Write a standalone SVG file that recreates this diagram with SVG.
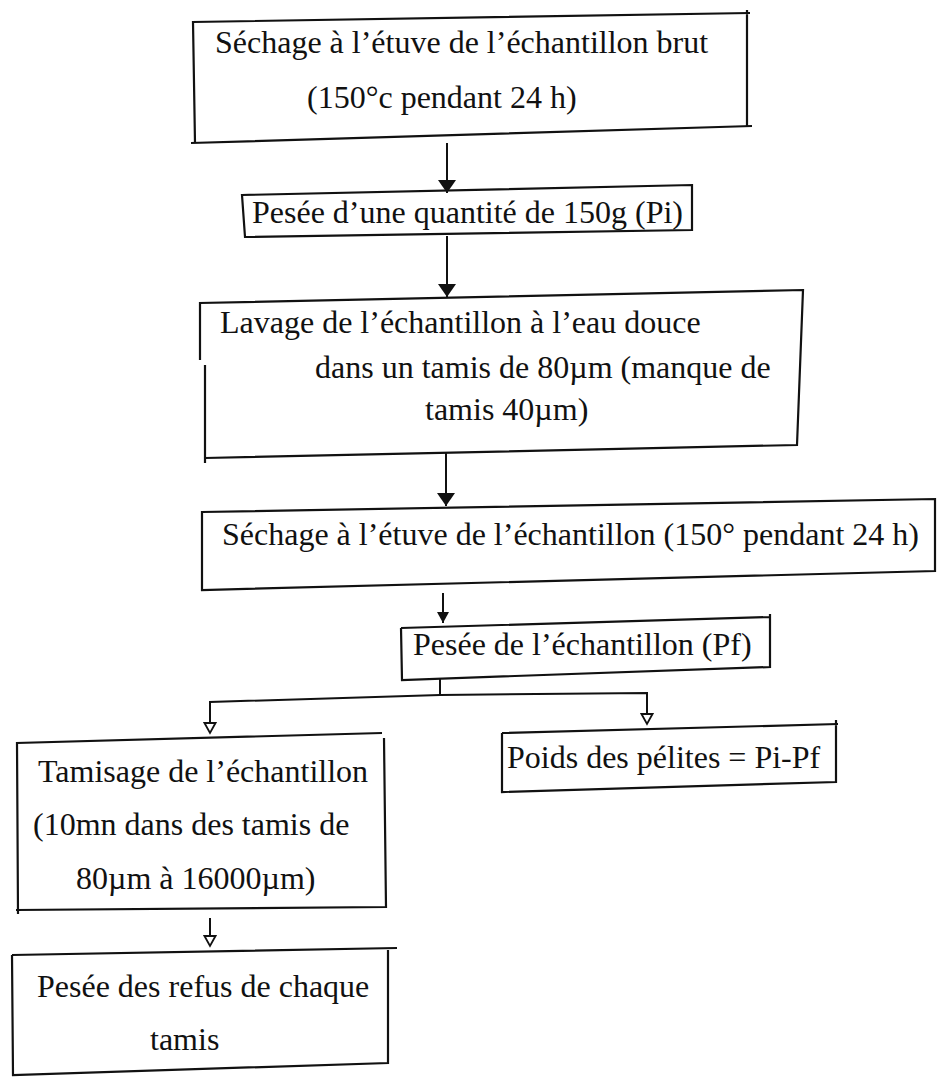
<svg xmlns="http://www.w3.org/2000/svg" width="938" height="1078" viewBox="0 0 938 1078">
<style>
.box{fill:none;stroke:#111;stroke-width:2.2;stroke-linejoin:miter}
.t{font-family:"Liberation Serif","Times New Roman",serif;font-size:32px;fill:#111}
.c{fill:none;stroke:#111;stroke-width:2}
</style>
<defs>
<marker id="af" markerUnits="userSpaceOnUse" viewBox="0 -10 14 20" markerWidth="14" markerHeight="20" refX="13" refY="0" orient="auto"><path d="M0,-9 L13,0 L0,9 Z" fill="#111"/></marker>
<marker id="as" markerUnits="userSpaceOnUse" viewBox="0 -7 12 14" markerWidth="12" markerHeight="14" refX="11" refY="0" orient="auto"><path d="M0,-6 L11,0 L0,6 Z" fill="#111"/></marker>
<marker id="ao" markerUnits="userSpaceOnUse" viewBox="-1 -7 13 14" markerWidth="13" markerHeight="14" refX="10" refY="0" orient="auto"><path d="M0,-5.5 L10,0 L0,5.5 Z" fill="#fff" stroke="#111" stroke-width="1.8"/></marker>
</defs>
<rect width="938" height="1078" fill="#fff"/>

<g id="n1">
<path class="box" d="M195,143 L193,22 L750,13 M747,10 L747,127 M752,126 L191,143"/>
<text class="t" x="215" y="53">Séchage à l’étuve de l’échantillon brut</text>
<text class="t" x="307" y="108">(150°c pendant 24 h)</text>
</g>

<g id="n2">
<polygon class="box" points="242,195 692,185 692,230 245,237"/>
<text class="t" x="252" y="223">Pesée d’une quantité de 150g (Pi)</text>
</g>

<g id="n3">
<path class="box" d="M200,360 L200,303 L803,290 L797,445 L205,458 M205,365 L205,463"/>
<text class="t" x="220" y="333">Lavage de l’échantillon à l’eau douce</text>
<text class="t" x="315" y="378">dans un tamis de 80µm (manque de</text>
<text class="t" x="425" y="420">tamis 40µm)</text>
</g>

<g id="n4">
<polygon class="box" points="202,512 935,499 935,571 202,590"/>
<text class="t" x="222" y="545">Séchage à l’étuve de l’échantillon (150° pendant 24 h)</text>
</g>

<g id="n5">
<path class="box" d="M401,628 L770,617 M770,614 L770,667 L402,680 L401,628"/>
<text class="t" x="413" y="655">Pesée de l’échantillon (Pf)</text>
</g>

<g id="n6">
<path class="box" d="M18,914 L17,743 L382,733 M384,738 L386,907 L16,910"/>
<text class="t" x="38" y="782">Tamisage de l’échantillon</text>
<text class="t" x="33" y="835">(10mn dans des tamis de</text>
<text class="t" x="76" y="889">80µm à 16000µm)</text>
</g>

<g id="n7">
<path class="box" d="M502,733 L838,724 M836,720 L836,782 L502,792 L502,733"/>
<text class="t" x="507" y="768">Poids des pélites = Pi-Pf</text>
</g>

<g id="n8">
<path class="box" d="M12,955 L397,948 M388,950 L388,1063 L13,1075 L12,955"/>
<text class="t" x="37" y="997">Pesée des refus de chaque</text>
<text class="t" x="150" y="1050">tamis</text>
</g>

<g id="connectors">
<path class="c" d="M447,143 L447,193" marker-end="url(#af)"/>
<path class="c" d="M447,236 L447,297" marker-end="url(#af)"/>
<path class="c" d="M446,453 L446,506" marker-end="url(#af)"/>
<path class="c" d="M443,593 L443,623" marker-end="url(#as)"/>
<path class="c" d="M440,679 L440,695"/>
<path class="c" d="M440,695 L210,702 L210,733" marker-end="url(#ao)"/>
<path class="c" d="M440,695 L647,693 L647,724" marker-end="url(#ao)"/>
<path class="c" d="M210,918 L210,946" marker-end="url(#ao)"/>
</g>
</svg>
